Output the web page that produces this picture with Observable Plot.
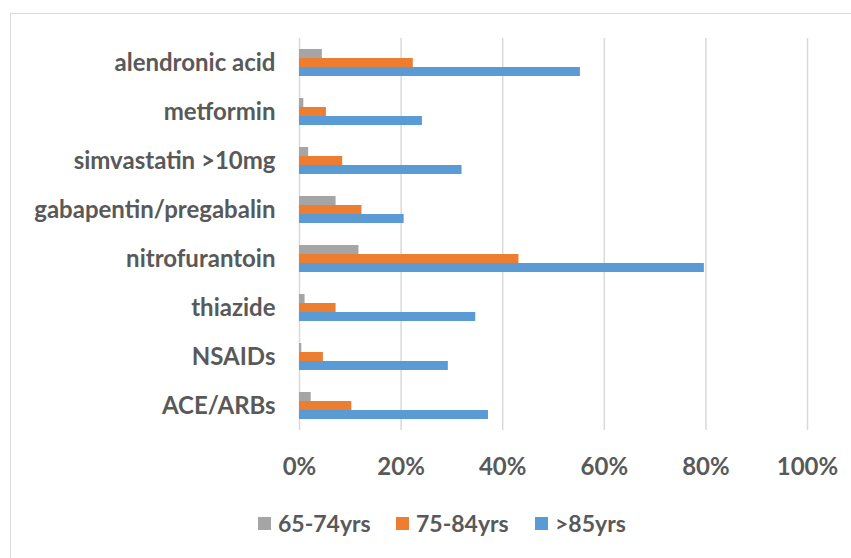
<!DOCTYPE html>
<html>
<head>
<meta charset="utf-8">
<script src="https://cdn.jsdelivr.net/npm/d3@7"></script>
<script src="https://cdn.jsdelivr.net/npm/@observablehq/plot@0.6"></script>
<style>
  html, body { margin: 0; padding: 0; background: #fff; }
  body { width: 851px; height: 558px; overflow: hidden; position: relative; font-family: Lato, "Open Sans", sans-serif; }
  #frame { position: absolute; left: 10px; top: 13px; width: 900px; height: 600px; border: 1.5px solid #d9d9d9; box-sizing: border-box; }
  #chart { position: absolute; left: 0; top: 0; }
  #legend { position: absolute; left: 0; top: 0; width: 851px; }
  .item { position: absolute; top: 509px; display: flex; align-items: center; font-weight: bold; font-size: 23px; color: #595959; }
  .sw { width: 13px; height: 13px; margin-right: 7px; }
</style>
</head>
<body>
<div id="frame"></div>
<div id="chart"></div>
<div id="legend"></div>
<script>
const drugs = ["alendronic acid", "metformin", "simvastatin >10mg", "gabapentin/pregabalin", "nitrofurantoin", "thiazide", "NSAIDs", "ACE/ARBs"];
const groups = ["65-74yrs", "75-84yrs", ">85yrs"];
const colors = ["#A5A5A5", "#ED7D31", "#5B9BD5"];
const v65_74 = [4.5, 0.85, 1.8, 7.2, 11.7, 1.1, 0.45, 2.3];
const v75_84 = [22.4, 5.3, 8.5, 12.3, 43.2, 7.2, 4.7, 10.3];
const v85 = [55.3, 24.2, 32.0, 20.6, 79.7, 34.7, 29.3, 37.2];
const xTicks = [0, 0.2, 0.4, 0.6, 0.8, 1.0];

const series = [v65_74, v75_84, v85];
const data = [];
drugs.forEach((d, i) => {
  groups.forEach((g, j) => data.push({drug: d, group: g, value: series[j][i] / 100}));
});

const chart = Plot.plot({
  width: 851,
  height: 490,
  marginLeft: 299,
  marginRight: 44,
  marginTop: 37,
  marginBottom: 59,
  style: {fontFamily: "Lato, 'Open Sans', sans-serif", fontSize: "24px", fontWeight: "bold", color: "#595959", background: "transparent"},
  x: {domain: [0, 1]},
  y: {domain: groups, paddingInner: 0, paddingOuter: 0.97, axis: null},
  fy: {domain: drugs, padding: 0},
  color: {domain: groups, range: colors},
  marks: [
    Plot.gridX(xTicks, {stroke: "#d9d9d9", strokeOpacity: 1, strokeWidth: 1.5}),
    Plot.barX(data, {x: "value", y: "group", fy: "drug", fill: "group"}),
    Plot.axisX(xTicks, {tickSize: 0, tickPadding: 27, tickFormat: d3.format(".0%"), label: null, fontSize: 24}),
    Plot.axisFy({anchor: "left", tickSize: 0, tickPadding: 24, label: null, fontSize: 24})
  ]
});
document.getElementById("chart").appendChild(chart);

const swX = [258, 396, 535];
const legend = document.getElementById("legend");
groups.forEach((g, i) => {
  const it = document.createElement("div");
  it.className = "item";
  it.style.left = swX[i] + "px";
  const sw = document.createElement("div");
  sw.className = "sw";
  sw.style.background = colors[i];
  const t = document.createElement("span");
  t.textContent = g;
  it.appendChild(sw);
  it.appendChild(t);
  legend.appendChild(it);
});
</script>
</body>
</html>
